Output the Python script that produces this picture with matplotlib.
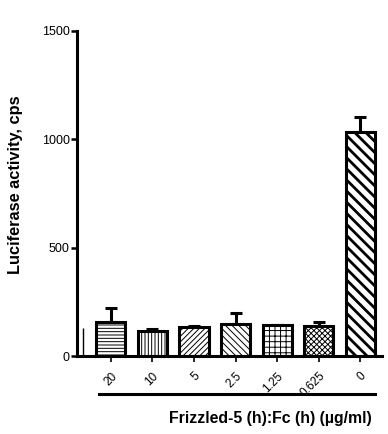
import matplotlib.pyplot as plt
from matplotlib.lines import Line2D

plt.rcParams['font.family'] = ['Liberation Sans', 'DejaVu Sans']
plt.rcParams['hatch.linewidth'] = 0.7

# concentrations of Frizzled-5 (h):Fc (h), ug/ml
doses = ['20', '10', '5', '2.5', '1.25', '0.625', '0']
luciferase = [158, 115, 132, 148, 143, 138, 1032]
sem = [65, 9, 8, 50, 2, 19, 69]
hatches = ['-----', '|||||', '//////', '\\\\\\\\\\', '+++', 'xxxxxx', '\\\\\\']

fig = plt.figure(figsize=(3.88, 4.34), dpi=100)
ax = fig.add_axes([0.198, 0.1797, 0.787, 0.749])

x = list(range(len(doses)))
bars = ax.bar(x, luciferase, width=0.7, color='white', edgecolor='black',
              linewidth=2.2, zorder=2)
for b, h in zip(bars, hatches):
    b.set_hatch(h)
try:
    bars[-1].set_hatch_linewidth(2.0)
except AttributeError:
    pass

ax.errorbar(x, luciferase, yerr=[[0] * len(sem), sem], fmt='none',
            ecolor='black', elinewidth=2.2, capsize=4.5, capthick=2.2, zorder=1)

# stray thin mark next to the axis
ax.vlines(-0.66, 0, 130, color='black', linewidth=1.0)

ax.set_xlim(-0.82, 6.53)
ax.set_ylim(0, 1500)
ax.set_yticks([0, 500, 1000, 1500])
ax.set_xticks(x)
ax.set_xticklabels(doses, rotation=45, ha='right', rotation_mode='anchor', fontsize=8.5)
ax.tick_params(axis='y', labelsize=9, width=1.8, length=4, pad=1)
ax.tick_params(axis='x', width=1.2, length=4, pad=6)
for s in ['top', 'right']:
    ax.spines[s].set_visible(False)
for s in ['left', 'bottom']:
    ax.spines[s].set_linewidth(2.2)

fig.text(16 / 388, 1 - 185 / 434, 'Luciferase activity, cps', rotation=90,
         ha='center', va='center', fontsize=11.8, fontweight='bold')

fig.add_artist(Line2D([99 / 388, 375 / 388], [1 - 394 / 434, 1 - 394 / 434],
                      color='black', linewidth=2.2))
fig.text(270 / 388, 1 - 418 / 434, 'Frizzled-5 (h):Fc (h) (µg/ml)', ha='center',
         va='center', fontsize=11.4, fontweight='bold')

fig.savefig('out.png', dpi=100)
